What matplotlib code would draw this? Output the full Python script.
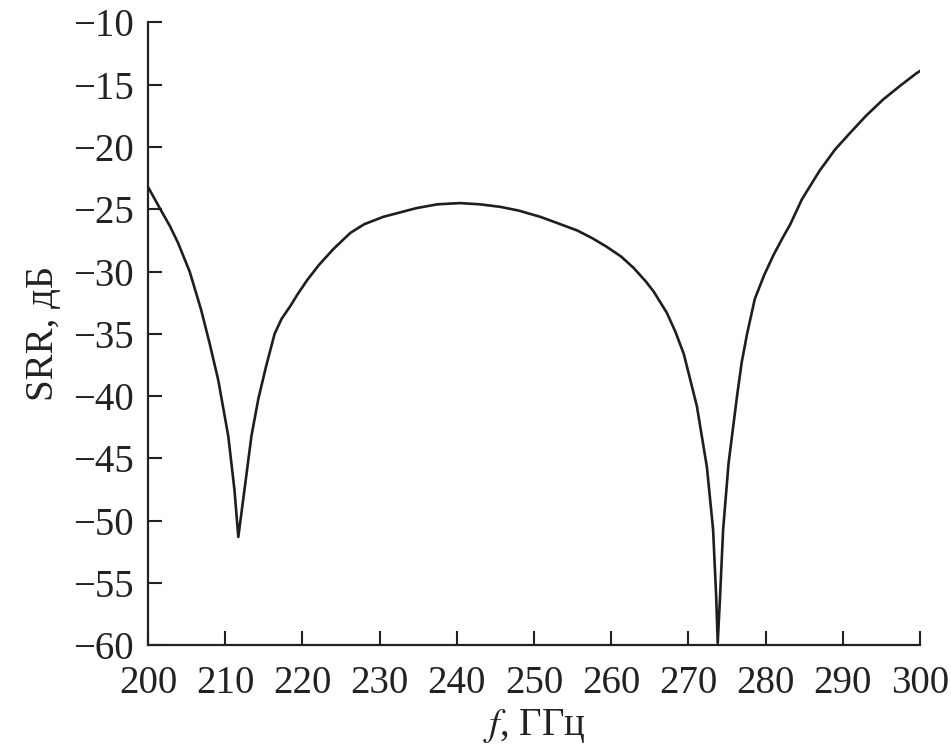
import matplotlib.pyplot as plt
import numpy as np

# SRR spectrum
freq = [200.0, 201.7, 202.8, 203.9, 205.4, 206.9, 208.0, 209.1, 210.4, 211.2,
        211.7, 212.5, 213.4, 214.3, 215.3, 216.4, 217.3, 218.4, 219.4, 220.6,
        222.1, 224.0, 226.2, 228.0, 230.5, 234.8, 237.5, 240.4, 243.0, 245.6,
        248.0, 250.8, 253.0, 255.6, 257.5, 259.4, 261.3, 262.9, 264.5, 265.5,
        267.2, 268.3, 269.4, 271.1, 272.4, 273.2, 273.6, 273.8, 274.1, 274.5,
        275.2, 276.3, 276.9, 277.6, 278.6, 279.8, 281.0, 282.2, 283.2, 284.7,
        287.0, 289.0, 290.9, 293.0, 295.2, 297.4, 299.5, 300.0]
srr = [-23.2, -25.1, -26.3, -27.7, -30.0, -33.1, -35.8, -38.7, -43.2, -47.5,
       -51.3, -47.5, -43.2, -40.2, -37.6, -35.0, -33.8, -32.8, -31.8, -30.7,
       -29.5, -28.2, -26.9, -26.2, -25.6, -24.9, -24.6, -24.5, -24.6, -24.8,
       -25.1, -25.6, -26.1, -26.7, -27.3, -28.0, -28.8, -29.7, -30.8, -31.6,
       -33.3, -34.8, -36.6, -40.8, -45.7, -50.7, -56.1, -59.8, -56.1, -50.7,
       -45.4, -40.0, -37.3, -35.0, -32.2, -30.3, -28.7, -27.3, -26.2, -24.2,
       -21.9, -20.2, -18.9, -17.5, -16.2, -15.1, -14.1, -13.9]

xticks = np.arange(200, 301, 10)
yticks = np.arange(-60, -9, 5)

plt.rcParams['font.family'] = ['Liberation Serif', 'DejaVu Serif']
plt.rcParams['mathtext.fontset'] = 'stix'

fig = plt.figure(figsize=(9.51, 7.55), dpi=100)
ax = fig.add_axes([0.1556, 0.1452, 0.8118, 0.8251])

ax.plot(freq, srr, color='#1e1e1e', linewidth=1.9, solid_joinstyle='round')

ax.set_xlim(200, 300)
ax.set_ylim(-60, -10)
ax.set_xticks(xticks)
ax.set_yticks(yticks)
ax.set_yticklabels([f'\u2212{abs(v)}' for v in yticks])

for s in ['top', 'right']:
    ax.spines[s].set_visible(False)
for s in ['left', 'bottom']:
    ax.spines[s].set_linewidth(1.6)
    ax.spines[s].set_color('#222222')

ax.tick_params(direction='in', length=10, width=1.5, colors='#222222',
               labelsize=28, pad=10)
ax.tick_params(axis='x', pad=14)

ax.set_xlabel('$f$, ГГц', fontsize=28, color='#222222', labelpad=4)
ax.set_ylabel('SRR, дБ', fontsize=28, color='#222222', labelpad=8)

fig.savefig('out.png', dpi=100)
